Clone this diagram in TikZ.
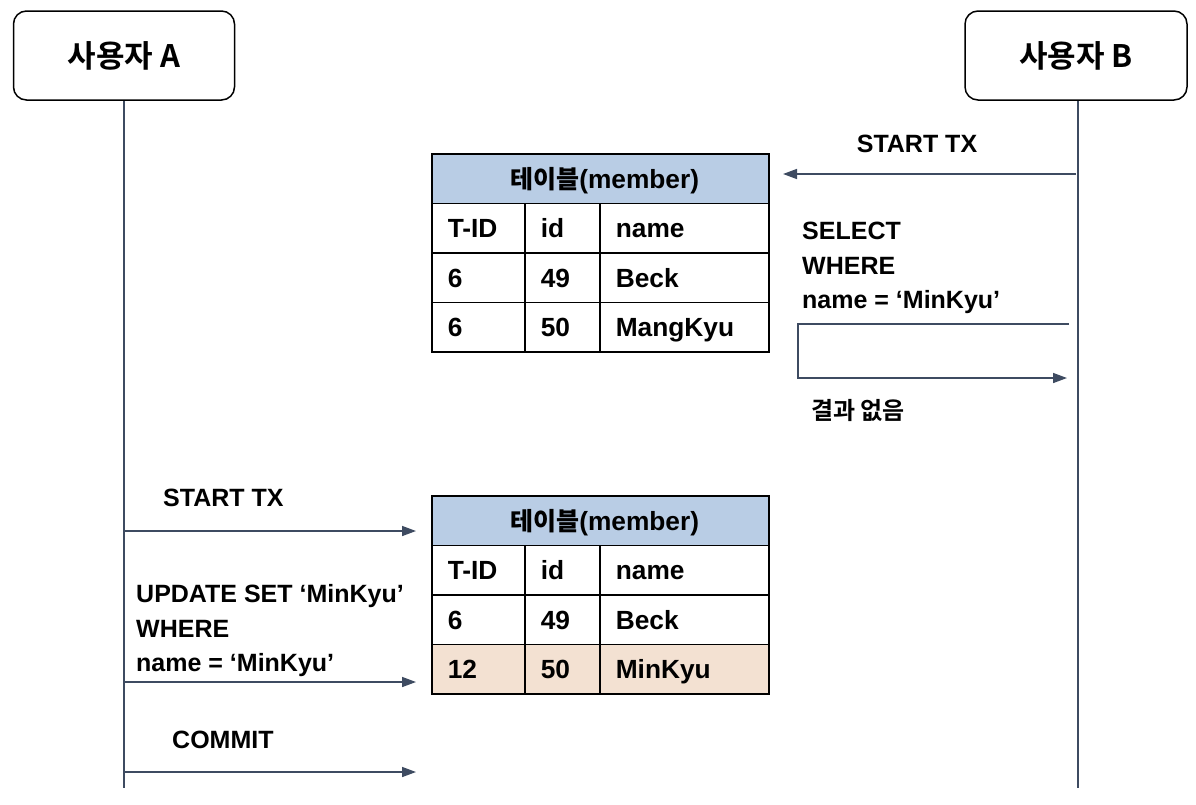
\documentclass[tikz,border=0pt]{standalone}
\usepackage{fontspec}
\setmainfont{Liberation Sans}
\newfontfamily\krb{Noto Sans CJK KR Bold}
\usetikzlibrary{arrows.meta}
\definecolor{ln}{HTML}{3E4B61}
\definecolor{hdr}{HTML}{B9CDE5}
\definecolor{hl}{HTML}{F3E1D2}
\newcommand{\fsz}[1]{\fontsize{#1}{#1}\selectfont}
\tikzset{
  actor/.style={draw=black, line width=1.5pt, rounded corners=13pt, fill=white,
    minimum height=89pt, inner sep=0, font=\fsz{31}\krb},
  life/.style={draw=ln, line width=1.4pt},
  msg/.style={draw=ln, line width=1.5pt, -{Triangle[length=14pt,width=10pt]}},
  cell/.style={draw=black, line width=1.6pt, anchor=north west, minimum height=49.5pt,
    inner xsep=16pt, inner ysep=0pt, align=left, text height=19pt, text depth=0pt,
    font=\fsz{26.3}\bfseries},
  cellw/.style={cell, text width=#1-32pt, minimum width=#1},
  lbl/.style={font=\fsz{25}\bfseries, inner sep=0pt, anchor=base west},
}
\begin{document}
\begin{tikzpicture}[x=1pt,y=-1pt]
\useasboundingbox (0,0) rectangle (1196,804);

% actors
\node[actor, minimum width=221pt] (A) at (124,55.5) {사용자 A};
\node[actor, minimum width=222pt] (B) at (1076,55.5) {사용자 B};
\coordinate (Aend) at (124,788);
\coordinate (Bend) at (1078,788);
\draw[life] (A.south) -- (Aend);
\draw[life] (B.south -| Bend) -- (Bend);

% top table
\node[cellw=337pt, fill=hdr, align=center] (t1h) at (431,153) {{\krb\fsz{25} 테이블}(member)};
\node[cellw=93pt]  (t1a1) at (431,202.5) {T-ID};
\node[cellw=75pt]  (t1b1) at (524,202.5) {id};
\node[cellw=169pt] (t1c1) at (599,202.5) {name};
\node[cellw=93pt]  (t1a2) at (431,252) {6};
\node[cellw=75pt]  (t1b2) at (524,252) {49};
\node[cellw=169pt] (t1c2) at (599,252) {Beck};
\node[cellw=93pt]  (t1a3) at (431,301.5) {6};
\node[cellw=75pt]  (t1b3) at (524,301.5) {50};
\node[cellw=169pt] (t1c3) at (599,301.5) {MangKyu};

% bottom table
\node[cellw=337pt, fill=hdr, align=center] (t2h) at (431,495) {{\krb\fsz{25} 테이블}(member)};
\node[cellw=93pt]  (t2a1) at (431,544.5) {T-ID};
\node[cellw=75pt]  (t2b1) at (524,544.5) {id};
\node[cellw=169pt] (t2c1) at (599,544.5) {name};
\node[cellw=93pt]  (t2a2) at (431,594) {6};
\node[cellw=75pt]  (t2b2) at (524,594) {49};
\node[cellw=169pt] (t2c2) at (599,594) {Beck};
\node[cellw=93pt, fill=hl]  (t2a3) at (431,643.5) {12};
\node[cellw=75pt, fill=hl]  (t2b3) at (524,643.5) {50};
\node[cellw=169pt, fill=hl] (t2c3) at (599,643.5) {MinKyu};

% user B messages
\node[lbl, anchor=base] (bstart) at (917,152) {START TX};
\coordinate (bs0) at (1076,174);
\coordinate (bs1) at (783,174);
\draw[msg] (bs0) -- (bs1);

\node[lbl] (bsel1) at (802,239) {SELECT};
\node[lbl] (bsel2) at (802,274) {WHERE};
\node[lbl] (bsel3) at (802,308) {name = ‘MinKyu’};
\coordinate (q0) at (1069,324);
\coordinate (q1) at (798,324);
\coordinate (q2) at (798,378);
\coordinate (q3) at (1067,378);
\draw[msg] (q0) -- (q1) -- (q2) -- (q3);
\node[font=\fsz{24}\krb, inner sep=0pt, anchor=west] (res) at (811,410) {결과 없음};

% user A messages
\node[lbl] (astart) at (163,506) {START TX};
\coordinate (as0) at (124,531);
\coordinate (as1) at (416,531);
\draw[msg] (as0) -- (as1);

\node[lbl] (aup1) at (136,602) {UPDATE SET ‘MinKyu’};
\node[lbl] (aup2) at (136,637) {WHERE};
\node[lbl] (aup3) at (136,671) {name = ‘MinKyu’};
\coordinate (au0) at (124,682);
\coordinate (au1) at (416,682);
\draw[msg] (au0) -- (au1);

\node[lbl] (acom) at (172,748) {COMMIT};
\coordinate (ac0) at (124,772);
\coordinate (ac1) at (416,772);
\draw[msg] (ac0) -- (ac1);
\end{tikzpicture}
\end{document}
